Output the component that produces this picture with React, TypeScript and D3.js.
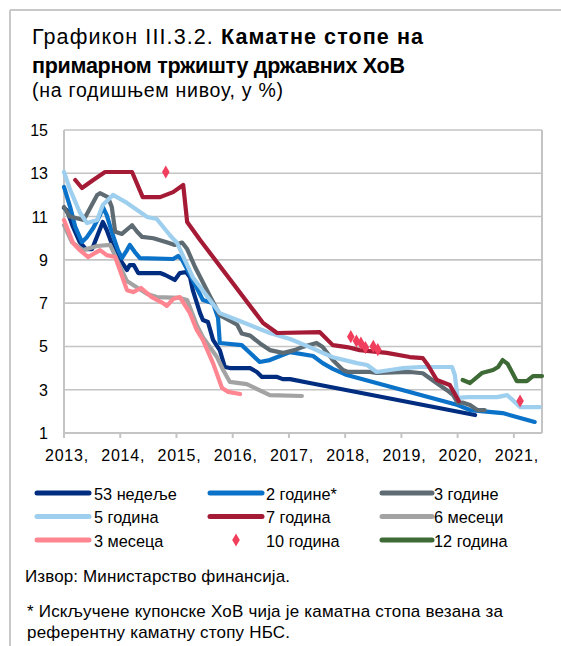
import React from "react";
import * as d3 from "d3";

// ---- data (decimal year, % per annum) ----
const yearTicks = [2013, 2014, 2015, 2016, 2017, 2018, 2019, 2020, 2021];
const yTicks = [1, 3, 5, 7, 9, 11, 13, 15];

const weeks53: [number, number][] = [
  [2013.0, 11.4], [2013.05, 11.3], [2013.16, 10.52], [2013.28, 9.82], [2013.39, 9.5], [2013.5, 9.5],
  [2013.69, 10.75], [2013.76, 10.38], [2013.87, 9.6], [2014.0, 9.0], [2014.12, 8.53], [2014.17, 8.76],
  [2014.24, 8.76], [2014.32, 8.39], [2014.71, 8.39], [2014.8, 8.3], [2014.97, 8.07], [2015.06, 8.39],
  [2015.17, 8.44], [2015.24, 8.2], [2015.29, 7.6], [2015.42, 6.54], [2015.47, 6.22], [2015.56, 6.13],
  [2015.65, 5.3], [2015.77, 4.83], [2015.86, 4.05], [2015.95, 4.0], [2016.31, 4.0], [2016.43, 3.82],
  [2016.52, 3.59], [2016.79, 3.59], [2016.89, 3.49], [2017.02, 3.49], [2017.37, 3.31], [2020.31, 1.83],
];

const years2: [number, number][] = [
  [2013.0, 12.37], [2013.11, 11.44], [2013.2, 10.52], [2013.32, 9.82], [2013.41, 10.06], [2013.52, 10.47],
  [2013.64, 11.07], [2013.69, 11.44], [2013.76, 11.07], [2013.85, 10.29], [2013.96, 9.45], [2014.03, 9.08],
  [2014.12, 9.45], [2014.17, 9.69], [2014.26, 9.36], [2014.35, 9.08], [2014.94, 9.04], [2015.03, 9.18],
  [2015.1, 9.0], [2015.29, 8.07], [2015.47, 7.14], [2015.65, 7.0], [2015.74, 6.31], [2015.77, 5.16],
  [2016.16, 5.06], [2016.31, 4.7], [2016.48, 4.28], [2016.66, 4.37], [2017.02, 4.74], [2017.43, 4.56],
  [2017.6, 4.23], [2017.78, 3.96], [2018.03, 3.68], [2020.0, 2.29], [2020.22, 2.06], [2020.8, 1.92],
  [2021.37, 1.51],
];

const years3: [number, number][] = [
  [2013.0, 11.44], [2013.1, 11.0], [2013.35, 10.84], [2013.59, 12.0], [2013.64, 12.08], [2013.78, 11.9],
  [2013.85, 11.44], [2013.91, 10.3], [2014.03, 10.2], [2014.21, 10.6], [2014.3, 10.3], [2014.39, 10.06],
  [2014.59, 10.0], [2014.84, 9.8], [2014.97, 9.69], [2015.1, 9.8], [2015.19, 9.5], [2015.33, 8.67],
  [2015.6, 7.3], [2015.77, 6.45], [2016.08, 6.0], [2016.16, 5.6], [2016.31, 5.5], [2016.48, 5.15],
  [2016.66, 4.83], [2016.89, 4.7], [2017.1, 4.83], [2017.24, 4.97], [2017.49, 5.16], [2017.6, 4.97],
  [2017.78, 4.37], [2017.96, 3.91], [2018.05, 3.82], [2018.44, 3.82], [2018.56, 3.78], [2019.15, 3.82],
  [2019.38, 3.76], [2019.63, 3.3], [2019.81, 2.98], [2019.92, 2.75], [2020.0, 2.4], [2020.1, 2.4],
  [2020.22, 2.29], [2020.35, 2.06], [2020.48, 2.06],
];

const years5: [number, number][] = [
  [2013.0, 13.06], [2013.11, 12.23], [2013.28, 11.2], [2013.41, 10.7], [2013.59, 10.84], [2013.69, 11.53],
  [2013.87, 12.0], [2014.12, 11.63], [2014.48, 10.98], [2014.65, 10.89], [2014.88, 10.15], [2015.01, 9.78],
  [2015.29, 8.2], [2015.77, 6.54], [2016.08, 6.22], [2016.66, 5.62], [2017.02, 5.34], [2017.37, 4.97],
  [2017.78, 4.5], [2018.21, 4.23], [2018.39, 4.14], [2018.56, 3.82], [2018.8, 3.91], [2019.03, 4.0],
  [2019.33, 4.05], [2019.9, 4.05], [2019.95, 3.68], [2020.0, 2.62], [2020.18, 2.66], [2020.7, 2.66],
  [2020.88, 2.75], [2020.98, 2.52], [2021.11, 2.2], [2021.46, 2.2],
];

const years7: [number, number][] = [
  [2013.2, 12.69], [2013.32, 12.32], [2013.52, 12.69], [2013.73, 13.06], [2014.21, 13.06], [2014.4, 11.9],
  [2014.71, 11.9], [2014.94, 12.13], [2015.12, 12.46], [2015.19, 10.75], [2015.42, 9.92], [2016.54, 6.08],
  [2016.79, 5.62], [2017.55, 5.66], [2017.78, 5.06], [2018.03, 4.97], [2018.26, 4.83], [2018.74, 4.7],
  [2019.15, 4.51], [2019.38, 4.46], [2019.47, 4.14], [2019.63, 3.45], [2019.86, 3.22], [2020.02, 2.48],
];

const months6: [number, number][] = [
  [2013.0, 10.6], [2013.14, 9.82], [2013.34, 9.45], [2013.59, 9.64], [2013.82, 9.69], [2013.96, 8.9],
  [2014.12, 8.02], [2014.23, 7.84], [2014.48, 7.42], [2014.65, 7.28], [2015.06, 7.24], [2015.19, 7.14],
  [2015.36, 5.99], [2015.47, 5.43], [2015.72, 4.51], [2015.83, 3.91], [2015.95, 3.36], [2016.25, 3.26],
  [2016.66, 2.75], [2017.23, 2.71],
];

const months3: [number, number][] = [
  [2013.0, 10.84], [2013.16, 9.78], [2013.28, 9.45], [2013.43, 9.13], [2013.64, 9.45], [2013.76, 9.22],
  [2013.91, 9.13], [2014.12, 7.6], [2014.23, 7.51], [2014.37, 7.7], [2014.56, 7.28], [2014.76, 7.0],
  [2014.83, 6.87], [2014.94, 7.19], [2015.06, 7.28], [2015.24, 6.54], [2015.36, 5.76], [2015.47, 5.3],
  [2015.65, 4.23], [2015.81, 3.08], [2015.92, 2.9], [2016.13, 2.8],
];

const years10: [number, number][] = [
  [2014.81, 13.06], [2018.1, 5.45], [2018.2, 5.25], [2018.28, 5.15], [2018.36, 4.95], [2018.5, 5.0],
  [2018.58, 4.85], [2021.11, 2.48],
];

const years12: [number, number][] = [
  [2020.09, 3.45], [2020.22, 3.31], [2020.43, 3.77], [2020.63, 3.91], [2020.72, 4.05], [2020.8, 4.37],
  [2020.89, 4.19], [2021.05, 3.4], [2021.23, 3.4], [2021.34, 3.63], [2021.5, 3.63],
];

const seriesNames = [
  "53 недеље", "2 године*", "3 године", "5 година", "7 година", "6 месеци", "3 месеца", "10 година", "12 година",
];

const FONT = "'Liberation Sans', Arial, sans-serif";

export default function App() {
  const W = 561;
  const H = 646;
  const x = d3.scaleLinear().domain([2013, 2021.5]).range([64, 542]);
  const y = d3.scaleLinear().domain([1, 15]).range([433, 130]);
  const line = d3
    .line<[number, number]>()
    .x((d) => x(d[0]))
    .y((d) => y(d[1]));

  const c53 = "#002D80";
  const c2 = "#0A72C8";
  const c3 = "#5E6B73";
  const c5 = "#9ECFEE";
  const c7 = "#A51A35";
  const c6m = "#A3A3A3";
  const c3m = "#FF8590";
  const diamondColor = "#F03E5C";
  const greenColor = "#3E6A36";

  const lines = [
    { name: seriesNames[0], data: weeks53, color: c53 },
    { name: seriesNames[1], data: years2, color: c2 },
    { name: seriesNames[2], data: years3, color: c3 },
    { name: seriesNames[3], data: years5, color: c5 },
    { name: seriesNames[4], data: years7, color: c7 },
    { name: seriesNames[5], data: months6, color: c6m },
    { name: seriesNames[6], data: months3, color: c3m },
  ];

  const legendItems = [
    { name: seriesNames[0], color: c53, type: "line" },
    { name: seriesNames[1], color: c2, type: "line" },
    { name: seriesNames[2], color: c3, type: "line" },
    { name: seriesNames[3], color: c5, type: "line" },
    { name: seriesNames[4], color: c7, type: "line" },
    { name: seriesNames[5], color: c6m, type: "line" },
    { name: seriesNames[6], color: c3m, type: "line" },
    { name: seriesNames[7], color: diamondColor, type: "diamond" },
    { name: seriesNames[8], color: greenColor, type: "line" },
  ];
  const colLine = [
    [37, 89],
    [210, 262],
    [382, 432],
  ];
  const colText = [94, 266, 434];
  const rowY = [493, 516.5, 540];

  const gridColor = "#C4C4C4";
  const diamond = d3.symbol().type(d3.symbolDiamond).size(50)() || "";

  return (
    <svg
      width={W}
      height={H}
      style={{ position: "absolute", left: 0, top: 0, background: "#fff" }}
      fontFamily={FONT}
    >
      <rect x={0} y={0} width={W} height={H} fill="#fff" />
      {/* outer frame */}
      <line x1={10} y1={10} x2={W} y2={10} stroke="#C8C8C8" strokeWidth={2} />
      <line x1={10} y1={10} x2={10} y2={H} stroke="#C8C8C8" strokeWidth={2} />

      {/* title */}
      <text x={32} y={44} fontSize={21.5} fill="#000" textLength={391} lengthAdjust="spacing">
        <tspan>Графикон III.3.2. </tspan>
        <tspan fontWeight="bold">Каматне стопе на</tspan>
      </text>
      <text x={32} y={73} fontSize={21.5} fontWeight="bold" fill="#000" textLength={373} lengthAdjust="spacing">
        примарном тржишту државних ХоВ
      </text>
      <text x={32} y={97} fontSize={19.5} fill="#000" textLength={251} lengthAdjust="spacing">
        (на годишњем нивоу, у %)
      </text>

      {/* grid */}
      {yTicks.map((t) => (
        <line
          key={"g" + t}
          x1={x(2013)}
          x2={x(2021.5)}
          y1={y(t)}
          y2={y(t)}
          stroke={gridColor}
          strokeWidth={t === 1 ? 2 : 1.6}
        />
      ))}
      <line x1={x(2013)} x2={x(2013)} y1={y(15)} y2={y(1)} stroke={gridColor} strokeWidth={2} />
      <line x1={x(2021.5)} x2={x(2021.5)} y1={y(15)} y2={y(1)} stroke={gridColor} strokeWidth={2} />
      {yearTicks.map((t) => (
        <line key={"xt" + t} x1={x(t)} x2={x(t)} y1={y(1)} y2={y(1) + 5} stroke={gridColor} strokeWidth={2} />
      ))}

      {/* y labels */}
      {yTicks.map((t) => (
        <text key={"yl" + t} x={48} y={y(t) + 6} fontSize={16} textAnchor="end" fill="#000">
          {t}
        </text>
      ))}
      {/* x labels */}
      {yearTicks.map((t) => (
        <text key={"xl" + t} x={x(t) + 3} y={461} fontSize={16} textAnchor="middle" fill="#000" letterSpacing={0.8}>
          {t + ","}
        </text>
      ))}

      {/* series */}
      {lines.map((s) => (
        <path
          key={s.name}
          d={line(s.data) || ""}
          fill="none"
          stroke={s.color}
          strokeWidth={4.2}
          strokeLinejoin="round"
          strokeLinecap="round"
        />
      ))}
      {years10.map((d, i) => (
        <path key={"d" + i} d={diamond} transform={`translate(${x(d[0])},${y(d[1])})`} fill={diamondColor} />
      ))}
      <path
        d={line(years12) || ""}
        fill="none"
        stroke={greenColor}
        strokeWidth={4.2}
        strokeLinejoin="round"
        strokeLinecap="round"
      />

      {/* legend */}
      {legendItems.map((it, i) => {
        const col = i % 3;
        const cy = rowY[Math.floor(i / 3)];
        const [l0, l1] = colLine[col];
        return (
          <g key={"lg" + i}>
            {it.type === "line" ? (
              <line x1={l0} x2={l1} y1={cy} y2={cy} stroke={it.color} strokeWidth={5} strokeLinecap="round" />
            ) : (
              <path d={diamond} transform={`translate(${(l0 + l1) / 2},${cy})`} fill={it.color} />
            )}
            <text x={colText[col]} y={cy + 6.5} fontSize={16.3} fill="#000">
              {it.name}
            </text>
          </g>
        );
      })}

      {/* source and note */}
      <text x={25} y={582} fontSize={17} fill="#000" textLength={265} lengthAdjust="spacing">
        Извор: Министарство финансија.
      </text>
      <text x={27} y={617} fontSize={17} fill="#000" textLength={476} lengthAdjust="spacing">
        * Искључене купонске ХоВ чија је каматна стопа везана за
      </text>
      <text x={27} y={638} fontSize={17} fill="#000" textLength={263} lengthAdjust="spacing">
        референтну каматну стопу НБС.
      </text>
    </svg>
  );
}
